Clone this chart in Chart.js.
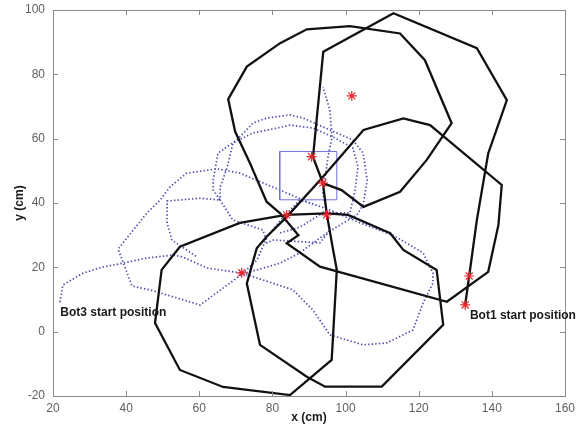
<!DOCTYPE html>
<html>
<head>
<meta charset="utf-8">
<script src="https://cdn.jsdelivr.net/npm/chart.js@4.4.1/dist/chart.umd.min.js"></script>
<style>
  html, body { margin: 0; padding: 0; background: #fff; }
  #plot { display: block; }
</style>
</head>
<body>
<canvas id="plot" width="581" height="425"></canvas>
<script>
// tick labels
const xTicks = [20, 40, 60, 80, 100, 120, 140, 160]
const yTicks = [-20, 0, 20, 40, 60, 80, 100]

// black trajectory (cm)
const bot1Path = [
  [93.8, 46.2], [98.9, 44.0], [104.9, 38.8], [114.9, 43.5], [122.2, 53.4], [129.0, 64.8],
  [121.7, 84.4], [114.9, 92.7], [101.2, 95.0], [89.4, 94.0], [82.1, 89.7], [73.0, 82.4],
  [67.9, 72.3], [69.8, 62.2], [73.9, 52.3], [78.4, 40.4], [82.1, 36.8], [87.1, 30.0],
  [83.9, 27.5], [93.0, 20.2], [127.7, 9.3], [139.0, 18.6], [141.8, 33.2], [142.7, 45.6],
  [123.1, 64.2], [115.8, 66.3], [104.9, 62.7], [93.0, 47.1], [83.9, 35.7], [78.4, 29.5],
  [75.7, 25.9], [73.0, 15.0], [76.6, -4.1], [89.4, -14.0], [94.4, -17.1], [109.9, -17.1],
  [126.7, 2.1], [124.9, 19.2], [115.8, 25.4], [112.2, 30.6], [100.7, 36.3], [94.8, 36.8],
  [83.7, 36.3], [71.1, 33.8], [54.7, 26.4], [49.7, 19.2], [47.9, 2.7], [54.7, -11.9],
  [66.5, -17.2], [84.8, -19.7], [96.2, -8.8], [97.6, 19.2], [96.6, 25.4], [94.9, 36.3],
  [93.8, 46.2], [91.1, 54.3], [93.9, 87.0], [113.1, 99.0], [135.9, 88.1], [144.1, 72.0],
  [139.0, 55.4], [135.9, 34.7], [133.8, 17.3], [132.7, 8.3]
]

// blue dotted trajectory, split where the pieces could not be followed
const bot3PathA = [
  [21.9, 9.2], [22.7, 14.5], [28.2, 18.2], [33.7, 20.1], [39.1, 21.3], [45.7, 22.9],
  [52.8, 23.8], [55.5, 23.2], [62.1, 19.8], [71.7, 18.2], [85.6, 13.0], [91.1, 6.7],
  [95.7, -1.0], [104.8, -4.1], [111.3, -3.5], [118.4, 0.5], [121.2, 8.9], [123.9, 15.1],
  [123.9, 18.2], [121.2, 24.5], [113.0, 30.0], [104.0, 33.8], [95.7, 37.8], [90.3, 40.0],
  [82.1, 44.0], [71.1, 49.3], [64.8, 50.6], [56.6, 49.3], [52.0, 45.0], [49.3, 40.9],
  [45.7, 36.9], [37.8, 25.7], [41.6, 14.2], [46.5, 13.0], [60.2, 8.3], [71.7, 17.9],
  [82.1, 21.3], [87.5, 24.5], [94.9, 30.7], [103.1, 36.3], [104.8, 39.4], [105.9, 47.1],
  [104.8, 55.5], [102.0, 59.6], [95.7, 62.7], [88.4, 66.4], [84.8, 67.4], [78.5, 66.4],
  [74.7, 64.9], [70.3, 59.6], [65.1, 55.5], [63.8, 47.1], [63.8, 44.0], [65.7, 40.9],
  [60.2, 41.5], [51.2, 40.6], [51.2, 33.8], [52.5, 28.5], [59.4, 23.2]
]
const bot3PathB = [
  [82.1, 30.7], [87.5, 32.5], [93.8, 36.9], [101.2, 36.9], [102.6, 44.0], [103.4, 51.2],
  [102.0, 57.1], [96.6, 60.5], [91.1, 63.3], [84.8, 64.2], [81.3, 63.3], [74.7, 61.8],
  [69.2, 58.6], [67.6, 50.9], [65.7, 45.0], [65.7, 40.9], [69.2, 34.7], [77.4, 31.6],
  [78.5, 27.6], [80.2, 28.5], [93.0, 27.6], [95.7, 31.6], [93.8, 43.1], [95.2, 54.3],
  [96.3, 60.5], [95.7, 68.9], [93.8, 76.1]
]
const bot3PathC = [
  [71.7, 17.9], [75.8, 22.3], [78.5, 29.4], [82.9, 35.6], [87.5, 40.9], [90.3, 40.0]
]

// red markers
const starX = [101.7, 90.7, 93.8, 83.9, 94.8, 71.6, 133.8, 132.7]
const starY = [73.3, 54.4, 46.2, 36.3, 36.3, 18.3, 17.3, 8.3]

// blue box corners
const boxX = [82, 97.6]
const boxY = [41, 56]

// labels
const noteText = ['Bot3 start position', 'Bot1 start position']
const noteX = [22, 134]
const noteY = [5.9, 5.0]

function toPoints(path){
    return path.map(p => ({x: p[0], y: p[1]}))
}

var starPoints = []
for (var i = 0; i < starX.length; i++){
    starPoints.push({x: starX[i], y: starY[i]})
}

var boxPoints = [
    {x: boxX[0], y: boxY[0]}, {x: boxX[1], y: boxY[0]}, {x: boxX[1], y: boxY[1]},
    {x: boxX[0], y: boxY[1]}, {x: boxX[0], y: boxY[0]}
]

const BLUE = '#4b4bb4'
const FONT = 'Liberation Sans, Arial, sans-serif'

function blueSet(path){
    return {
        data: toPoints(path),
        showLine: true,
        borderColor: BLUE,
        borderWidth: 1.7,
        borderDash: [1.4, 2.2],
        pointRadius: 0,
        order: 4
    }
}

// matlab style box with ticks pointing inwards
const boxPlugin = {
    id: 'matlabBox',
    afterDraw(chart){
        const ctx = chart.ctx
        const a = chart.chartArea
        const xs = chart.scales.x
        const ys = chart.scales.y
        ctx.save()
        ctx.strokeStyle = '#8a8a8a'
        ctx.lineWidth = 1
        ctx.strokeRect(a.left + 0.5, a.top + 0.5, a.right - a.left, a.bottom - a.top)
        ctx.beginPath()
        for (const v of xTicks.slice(1, -1)){
            const px = Math.round(xs.getPixelForValue(v)) + 0.5
            ctx.moveTo(px, a.bottom); ctx.lineTo(px, a.bottom - 5)
            ctx.moveTo(px, a.top); ctx.lineTo(px, a.top + 5)
        }
        for (const v of yTicks.slice(1, -1)){
            const py = Math.round(ys.getPixelForValue(v)) + 0.5
            ctx.moveTo(a.left, py); ctx.lineTo(a.left + 5, py)
            ctx.moveTo(a.right, py); ctx.lineTo(a.right - 5, py)
        }
        ctx.stroke()

        ctx.fillStyle = '#1a1a1a'
        ctx.font = 'bold 12px ' + FONT
        ctx.textBaseline = 'middle'
        ctx.textAlign = 'left'
        for (var i = 0; i < noteText.length; i++){
            ctx.fillText(noteText[i], xs.getPixelForValue(noteX[i]), ys.getPixelForValue(noteY[i]))
        }
        ctx.restore()
    }
}

new Chart(document.getElementById('plot'), {
    type: 'scatter',
    data: {
        datasets: [
            {
                data: starPoints,
                pointStyle: 'star',
                pointRadius: 5,
                borderColor: '#e8262b',
                backgroundColor: '#e8262b',
                borderWidth: 1.2,
                showLine: false,
                order: 0
            },
            {
                data: toPoints(bot1Path),
                showLine: true,
                borderColor: '#111111',
                borderWidth: 2.3,
                pointRadius: 0,
                order: 1
            },
            {
                data: boxPoints,
                showLine: true,
                borderColor: '#7272dc',
                borderWidth: 1,
                pointRadius: 0,
                order: 2
            },
            blueSet(bot3PathA),
            blueSet(bot3PathB),
            blueSet(bot3PathC)
        ]
    },
    options: {
        responsive: false,
        animation: false,
        devicePixelRatio: 1,
        layout: { padding: { top: 10, right: 16, left: 0, bottom: 0 } },
        plugins: {
            legend: { display: false },
            tooltip: { enabled: false }
        },
        scales: {
            x: {
                type: 'linear',
                min: 20,
                max: 160,
                afterFit: s => { s.height = 29; s.paddingLeft = 0; s.paddingRight = 0 },
                afterBuildTicks: s => { s.ticks = xTicks.map(v => ({value: v})) },
                grid: { display: false, drawTicks: false },
                border: { display: false },
                ticks: { padding: 5, color: '#606060', font: { family: FONT, size: 12 } },
                title: { display: true, text: 'x (cm)', color: '#1a1a1a', padding: 0,
                         font: { family: FONT, size: 12, weight: 'bold' } }
            },
            y: {
                type: 'linear',
                min: -20,
                max: 100,
                afterFit: s => { s.width = 53; s.paddingTop = 0; s.paddingBottom = 0 },
                afterBuildTicks: s => { s.ticks = yTicks.map(v => ({value: v})) },
                grid: { display: false, drawTicks: false },
                border: { display: false },
                ticks: { padding: 8, color: '#606060', font: { family: FONT, size: 12 } },
                title: { display: true, text: 'y (cm)', color: '#1a1a1a', padding: { top: 12, bottom: 0 },
                         font: { family: FONT, size: 12, weight: 'bold' } }
            }
        }
    },
    plugins: [boxPlugin]
})
</script>
</body>
</html>
